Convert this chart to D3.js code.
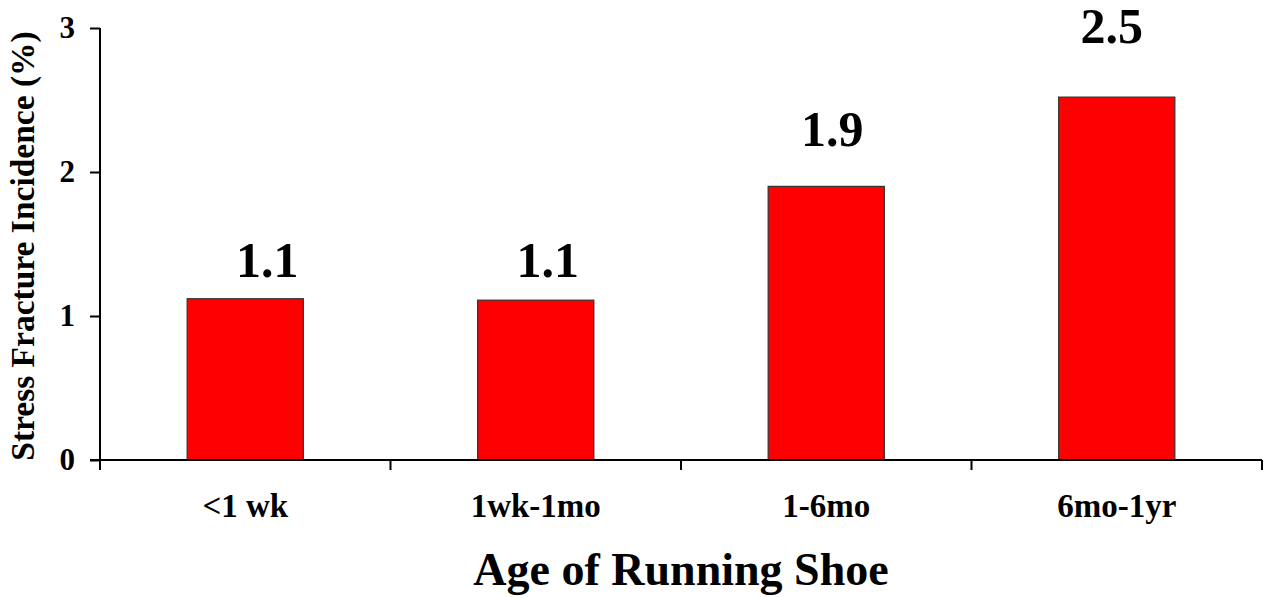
<!DOCTYPE html>
<html>
<head>
<meta charset="utf-8">
<script src="https://cdn.jsdelivr.net/npm/d3@7"></script>
<style>
  html, body { margin: 0; padding: 0; background: #fff; }
  svg { display: block; }
  svg text { font-family: "Liberation Serif", "DejaVu Serif", serif; font-weight: bold; }
</style>
</head>
<body>
<svg id="chart" width="1265" height="597"></svg>
<script>
// ---- data ----
const categories = ["<1 wk", "1wk-1mo", "1-6mo", "6mo-1yr"];
const values = [1.12, 1.11, 1.9, 2.52];
const valueLabels = ["1.1", "1.1", "1.9", "2.5"];
const yTickValues = [0, 1, 2, 3];
const yTitle = "Stress Fracture Incidence (%)";
const xTitle = "Age of Running Shoe";

// ---- layout ----
const plotLeft = 100, plotRight = 1262, plotTop = 28, plotBottom = 460;
const labelGap = [22, 23, 40, 54];
const labelShift = [22, 12, 6, -5];
const FONT = "'Liberation Serif', 'DejaVu Serif', serif";

const svg = d3.select("#chart");

const x = d3.scaleBand().domain(categories).range([plotLeft, plotRight])
  .paddingInner(0.6).paddingOuter(0.3);
const y = d3.scaleLinear().domain([0, 3]).range([plotBottom, plotTop]);

// bars
svg.append("g").selectAll("rect").data(values).join("rect")
  .attr("x", (d, i) => x(categories[i]))
  .attr("y", d => y(d))
  .attr("width", x.bandwidth())
  .attr("height", d => y(0) - y(d))
  .attr("fill", "#ff0000")
  .attr("stroke", "#333")
  .attr("stroke-width", 1.2);

// value labels
svg.append("g").selectAll("text").data(values).join("text")
  .attr("x", (d, i) => x(categories[i]) + x.bandwidth() / 2 + labelShift[i])
  .attr("y", (d, i) => y(d) - labelGap[i])
  .attr("text-anchor", "middle")
  .attr("font-family", FONT).attr("font-weight", "bold")
  .attr("font-size", 50)
  .attr("fill", "#000")
  .text((d, i) => valueLabels[i]);

// y axis
const yAxis = d3.axisLeft(y).tickValues(yTickValues).tickSize(10).tickPadding(15)
  .tickSizeOuter(0).tickFormat(d3.format("d"));
const gy = svg.append("g").attr("transform", `translate(${plotLeft},0)`).call(yAxis);
gy.attr("font-family", FONT);
gy.select(".domain").remove();
gy.selectAll(".tick line").attr("stroke", "#000").attr("stroke-width", 2);
gy.selectAll(".tick text").attr("font-size", 31).attr("font-family", FONT)
  .attr("font-weight", "bold").attr("fill", "#000");
svg.append("line").attr("x1", plotLeft).attr("x2", plotLeft).attr("y1", plotTop).attr("y2", plotBottom + 10)
  .attr("stroke", "#000").attr("stroke-width", 2);

// x axis
svg.append("line").attr("x1", plotLeft - 10).attr("x2", plotRight).attr("y1", plotBottom).attr("y2", plotBottom)
  .attr("stroke", "#000").attr("stroke-width", 2);
const step = x.step();
const boundaries = [x(categories[0]) - step * x.paddingOuter()]
  .concat(categories.map(c => x(c) + x.bandwidth() + step * x.paddingInner() / 2));
boundaries[boundaries.length - 1] = plotRight;
svg.append("g").selectAll("line").data(boundaries).join("line")
  .attr("x1", d => d).attr("x2", d => d)
  .attr("y1", plotBottom).attr("y2", plotBottom + 10)
  .attr("stroke", "#000").attr("stroke-width", 2);

svg.append("g").selectAll("text").data(categories).join("text")
  .attr("x", d => x(d) + x.bandwidth() / 2)
  .attr("y", plotBottom + 57)
  .attr("text-anchor", "middle")
  .attr("font-family", FONT).attr("font-weight", "bold")
  .attr("font-size", 33)
  .attr("fill", "#000")
  .text(d => d);

// titles
svg.append("text")
  .attr("transform", `translate(34,246) rotate(-90)`)
  .attr("text-anchor", "middle")
  .attr("font-family", FONT).attr("font-weight", "bold")
  .attr("font-size", 33.5)
  .attr("fill", "#000")
  .text(yTitle);

svg.append("text")
  .attr("x", (plotLeft + plotRight) / 2)
  .attr("y", 585)
  .attr("text-anchor", "middle")
  .attr("font-family", FONT).attr("font-weight", "bold")
  .attr("font-size", 46)
  .attr("fill", "#000")
  .text(xTitle);
</script>
</body>
</html>
